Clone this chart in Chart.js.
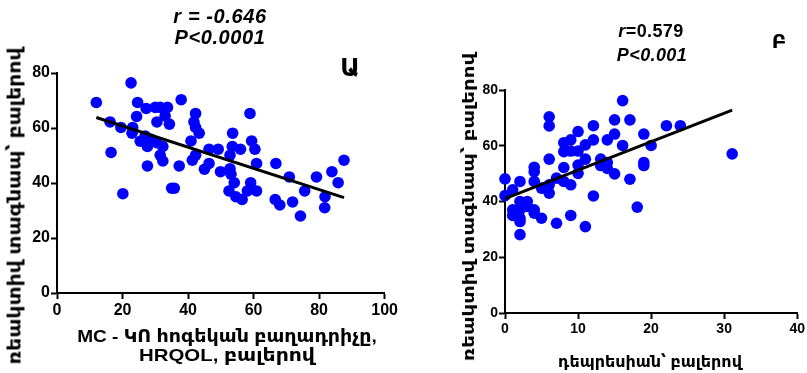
<!DOCTYPE html>
<html>
<head>
<meta charset="utf-8">
<script src="https://cdn.jsdelivr.net/npm/chart.js@4"></script>
<style>
  html, body { margin: 0; padding: 0; background: #fff; }
  body { width: 807px; height: 373px; position: relative; overflow: hidden;
         font-family: "Liberation Sans", "DejaVu Sans", sans-serif; font-weight: bold; color: #000; }
  .cv { position: absolute; top: 0; }
  .t { position: absolute; white-space: nowrap; transform: translate(-50%, -50%); line-height: 1; }
</style>
</head>
<body>
<div class="cv" style="left:0;width:400px;height:373px;"><canvas id="c1"></canvas></div>
<div class="cv" style="left:400px;width:407px;height:373px;"><canvas id="c2"></canvas></div>

<div class="t" style="left:220px;top:16px;font-size:20px;font-style:italic;letter-spacing:0.6px;">r = -0.646</div>
<div class="t" style="left:220px;top:37px;font-size:20px;font-style:italic;letter-spacing:0.6px;">P&lt;0.0001</div>
<div class="t" style="left:651px;top:31px;font-size:18px;letter-spacing:0.4px;"><i>r</i>=0.579</div>
<div class="t" style="left:652px;top:55px;font-size:18px;font-style:italic;letter-spacing:0.4px;">P&lt;0.001</div>
<div class="t" style="left:350px;top:68px;font-size:24px;">Ա</div>
<div class="t" style="left:779px;top:41px;font-size:20px;">Բ</div>

<div class="t" style="left:227px;top:336px;font-size:17px;transform:translate(-50%,-50%) scaleX(1.12);">MC - ԿՈ հոգեկան բաղադրիչը,</div>
<div class="t" style="left:227px;top:355px;font-size:17px;transform:translate(-50%,-50%) scaleX(1.2);">HRQOL, բալերով</div>
<div class="t" style="left:650px;top:362px;font-size:16px;">դեպրեսիան՝ բալերով</div>
<div class="t" style="left:15px;top:206px;font-size:17px;transform:translate(-50%,-50%) rotate(-90deg) scaleX(1.2);">ռեակտիվ տագնապ՝ բալերով</div>
<div class="t" style="left:469px;top:207px;font-size:16px;transform:translate(-50%,-50%) rotate(-90deg) scaleX(1.24);">ռեակտիվ տագնապ՝ բալերով</div>

<script>
// ---- Panel Ա: MC (mental component) HRQOL vs reactive anxiety ----
const leftX = [12.0, 22.6, 16.2, 19.5, 16.5, 20.1, 24.6, 27.2, 24.3, 23.1, 22.9, 25.4, 26.9, 27.6, 27.6,
  30.0, 31.5, 33.7, 33.0, 30.5, 34.3, 28.7, 30.5, 32.3, 31.5, 32.3, 35.0, 35.8, 37.3, 37.9,
  42.3, 41.8, 42.3, 43.4, 40.9, 42.3, 41.3, 45.0, 46.4, 46.4, 49.2, 49.9, 52.8, 53.6, 53.5,
  56.0, 52.8, 53.1, 54.1, 52.5, 54.6, 56.5, 58.9, 59.4, 60.4, 60.9, 59.1, 60.9, 58.1, 66.8,
  66.6, 68.0, 70.9, 71.9, 74.3, 75.6, 79.2, 81.8, 81.7, 83.9, 85.8, 87.6];
const leftY = [69.3, 76.4, 62.2, 60.2, 51.1, 36.1, 69.3, 67.1, 64.2, 60.2, 58.1, 55.2, 57.1, 53.3, 46.2,
  67.5, 67.5, 67.5, 64.4, 62.2, 61.4, 55.9, 54.7, 53.3, 50.1, 48.0, 38.1, 38.1, 46.2, 70.3,
  65.3, 62.2, 60.2, 58.1, 55.3, 50.1, 48.3, 45.0, 47.1, 52.3, 52.3, 44.1, 50.1, 58.1, 53.3,
  52.3, 45.2, 43.2, 40.1, 37.1, 35.0, 34.0, 65.3, 55.3, 52.3, 47.1, 40.1, 37.1, 37.1, 47.1,
  34.0, 32.0, 42.2, 33.1, 28.0, 37.1, 42.2, 35.0, 31.0, 44.1, 40.1, 48.3];
const leftFitX = [12.0, 87.6];
const leftFitY = [63.8, 34.7];
const leftXTicks = [0, 20, 40, 60, 80, 100];
const leftYTicks = [0, 20, 40, 60, 80];

// ---- Panel Բ: depression vs reactive anxiety ----
const rightX = [0, 0, 1.05, 1.05, 1.05, 2.05, 2.05, 2.05, 2.05, 2.05, 2.05, 3.05, 3.05, 4.0, 4.0,
  4.0, 4.0, 4.0, 5.0, 5.0, 6.05, 6.05, 6.05, 6.05, 6.05, 5.5, 7.05, 7.05, 8.05, 8.05,
  8.05, 8.05, 9.0, 9.0, 9.0, 9.0, 10.0, 10.0, 10.0, 10.0, 11.0, 11.0, 11.0, 12.1, 12.1,
  12.1, 13.1, 13.1, 14.0, 14.0, 14.0, 15.0, 15.0, 15.0, 16.1, 16.1, 17.1, 17.1, 18.1, 19.0,
  19.0, 19.0, 20.0, 22.1, 24.0, 31.1];
const rightY = [48.1, 42.1, 44.2, 37.0, 35.0, 47.2, 40.0, 37.0, 34.0, 32.8, 28.1, 40.0, 38.2, 52.3, 50.7,
  47.2, 37.0, 35.8, 44.8, 34.0, 70.4, 67.1, 55.2, 46.0, 43.0, 44.8, 48.4, 32.2, 61.1, 57.9,
  52.2, 47.2, 62.1, 58.1, 46.0, 35.0, 65.1, 58.1, 53.1, 50.1, 60.3, 55.2, 31.0, 67.2, 62.1,
  42.0, 55.2, 52.9, 62.1, 54.0, 51.9, 69.3, 64.2, 49.9, 76.2, 60.1, 69.3, 48.0, 38.0, 64.2,
  54.0, 52.9, 60.1, 67.2, 67.2, 57.1];
const rightFitX = [0, 31.1];
const rightFitY = [41.0, 72.8];
const rightXTicks = [0, 10, 20, 30, 40];
const rightYTicks = [0, 20, 40, 60, 80];

const pts = (xs, ys) => xs.map((x, i) => ({ x: x, y: ys[i] }));
const FONT = '"Liberation Sans", "DejaVu Sans", sans-serif';

function makeChart(id, cfg) {
  const axisCommon = (ticks, min, max, step, fontSize, pad) => ({
    type: 'linear', min: min, max: max,
    border: { display: true, color: '#000', width: 2 },
    grid: { display: true, drawOnChartArea: false, drawTicks: true, tickLength: 6, tickWidth: 2, color: '#000' },
    ticks: { stepSize: step, color: '#000', padding: pad, font: { family: FONT, size: fontSize, weight: 'bold' },
             autoSkip: false, maxRotation: 0, callback: v => ticks.includes(v) ? String(v) : null }
  });
  const xAxis = axisCommon(cfg.xTicks, cfg.xTicks[0], cfg.xTicks[cfg.xTicks.length - 1], cfg.xTicks[1] - cfg.xTicks[0], cfg.fontSize, 2);
  xAxis.afterFit = s => { s.height = cfg.xH; };
  const yAxis = axisCommon(cfg.yTicks, cfg.yTicks[0], cfg.yTicks[cfg.yTicks.length - 1], cfg.yTicks[1] - cfg.yTicks[0], cfg.fontSize, 1);
  yAxis.afterFit = s => { s.width = cfg.yW; };
  return new Chart(document.getElementById(id), {
    type: 'scatter',
    data: {
      datasets: [
        { data: pts(cfg.fitX, cfg.fitY), showLine: true, borderColor: '#000', borderWidth: 3,
          pointRadius: 0, fill: false, order: 0 },
        { data: pts(cfg.x, cfg.y), backgroundColor: '#0000ff', borderColor: '#0000ff',
          pointRadius: 5.8, borderWidth: 0, order: 1 }
      ]
    },
    options: {
      responsive: true, maintainAspectRatio: false, animation: false,
      clip: false,
      layout: { padding: { top: cfg.top, right: cfg.right, left: 0, bottom: 0 } },
      plugins: { legend: { display: false }, tooltip: { enabled: false }, title: { display: false } },
      scales: { x: xAxis, y: yAxis }
    }
  });
}

makeChart('c1', { x: leftX, y: leftY, fitX: leftFitX, fitY: leftFitY, xTicks: leftXTicks, yTicks: leftYTicks,
  fontSize: 16, xH: 80, yW: 57, top: 73, right: 15 });
makeChart('c2', { x: rightX, y: rightY, fitX: rightFitX, fitY: rightFitY, xTicks: rightXTicks, yTicks: rightYTicks,
  fontSize: 14, xH: 60, yW: 105, top: 90, right: 9 });
</script>
</body>
</html>
